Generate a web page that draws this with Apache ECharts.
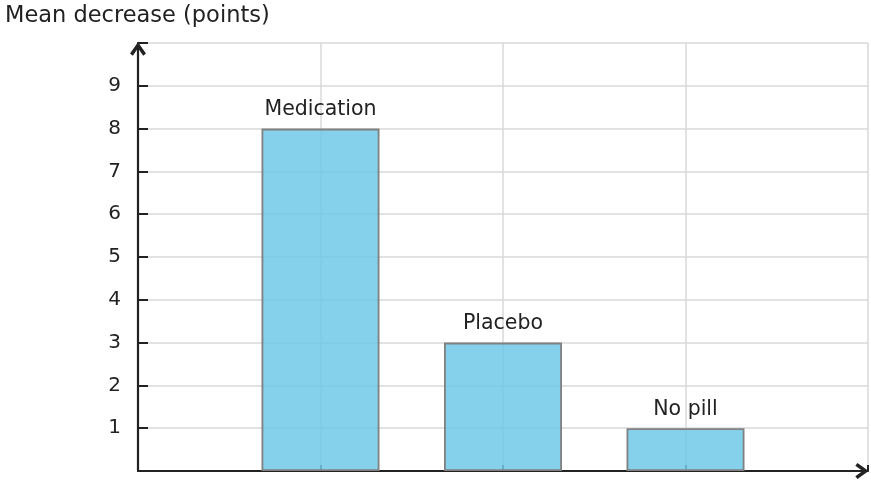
<!DOCTYPE html>
<html><head><meta charset="utf-8">
<script src="https://cdn.jsdelivr.net/npm/echarts@6/dist/echarts.min.js"></script>
<style>html,body{margin:0;padding:0;background:#fff}#c{width:871px;height:480px}</style>
</head><body><div id="c"></div>
<script>
var categories = ['Medication', 'Placebo', 'No pill'];
var positions = [1, 2, 3];
var values = [8, 3, 1];
var yTicks = [1, 2, 3, 4, 5, 6, 7, 8, 9];
var yTitle = 'Mean decrease (points)';

var chart = echarts.init(document.getElementById('c'));
var arrowPath = 'path://M6,0 L12,8.4 L9.9,10 L6,4.5 L2.1,10 L0,8.4 Z';
var data = positions.map(function (p, i) { return { value: [p, values[i]], name: categories[i] }; });
chart.setOption({
  animation: false,
  textStyle: { fontFamily: 'DejaVu Sans' },
  title: { text: yTitle, left: 0, top: 0, textStyle: { fontFamily: 'DejaVu Sans', fontSize: 22.5, fontWeight: 'normal', color: '#222' } },
  grid: { left: 138, right: 3, top: 43, bottom: 9 },
  xAxis: {
    type: 'value', min: 0, max: 4, interval: 1,
    axisLine: { show: true, lineStyle: { color: '#222', width: 2.2 }, symbol: ['none', arrowPath], symbolSize: [16, 14], symbolOffset: [0, -6] },
    axisTick: { show: true, inside: true, length: 6, lineStyle: { color: '#222', width: 2 } },
    axisLabel: { show: false },
    splitLine: { show: true, lineStyle: { color: '#d9d9d9', width: 1.5 } }
  },
  yAxis: {
    type: 'value', min: 0, max: 10, interval: 1,
    axisLine: { show: true, onZero: false, lineStyle: { color: '#222', width: 2.2 }, symbol: ['none', arrowPath], symbolSize: [16, 14], symbolOffset: [0, -6] },
    axisTick: { show: true, inside: true, length: 10, lineStyle: { color: '#222', width: 2 } },
    axisLabel: { margin: 17, fontSize: 20, color: '#222', fontFamily: 'DejaVu Sans',
      formatter: function (v) { return yTicks.indexOf(v) >= 0 ? String(v) : ''; } },
    splitLine: { show: true, lineStyle: { color: '#d9d9d9', width: 1.5 } }
  },
  series: [{
    type: 'bar', data: data, barWidth: 118,
    itemStyle: { color: 'rgba(112,200,230,0.85)', borderColor: '#808080', borderWidth: 1.8 },
    label: { show: true, position: 'top', distance: 8, fontSize: 20.5, color: '#222', fontFamily: 'DejaVu Sans',
      formatter: function (p) { return p.name; } }
  }]
});
</script></body></html>
